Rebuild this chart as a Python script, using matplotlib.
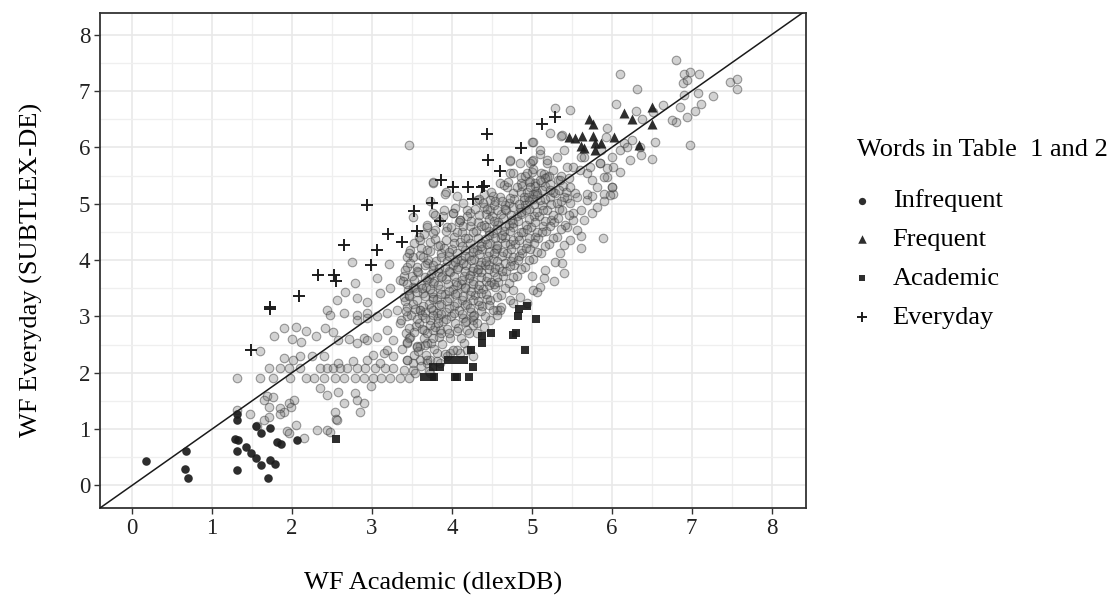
import matplotlib
matplotlib.use("Agg")
import matplotlib.pyplot as plt
from matplotlib.ticker import MultipleLocator

plt.rcParams['font.family'] = ['Liberation Serif', 'DejaVu Serif']

# all words (grey cloud)
background = [
    # sparse lower-left part
    (1.31, 1.90), (1.60, 1.90), (1.60, 2.39), (1.71, 2.08), (1.76, 1.90), (1.85, 2.08), (1.90, 2.26),
    (1.90, 2.79), (1.77, 2.65), (1.97, 2.08), (1.98, 1.90), (2.02, 2.23), (2.05, 2.81), (2.10, 2.29),
    (2.10, 2.08), (2.18, 2.75), (2.00, 2.60), (2.12, 2.54), (2.18, 1.90), (2.25, 2.29), (2.28, 1.90),
    (2.30, 2.65), (2.35, 2.08), (2.40, 2.29), (2.40, 1.90), (2.42, 2.79), (2.44, 2.08), (2.44, 3.12),
    (2.48, 3.03), (2.52, 2.73), (2.52, 2.08), (2.54, 1.90), (2.56, 3.29), (2.58, 2.58), (2.58, 2.17),
    (2.60, 2.08), (2.65, 3.06), (2.65, 1.90), (2.67, 3.44), (2.69, 2.08), (2.71, 2.60), (2.75, 3.97),
    (2.77, 2.20), (2.79, 3.59), (2.79, 1.90), (2.81, 2.52), (2.81, 3.03), (2.81, 2.08), (2.90, 2.61),
    (2.90, 1.90), (2.92, 2.08), (2.94, 2.23), (2.94, 3.06), (3.01, 1.90), (3.02, 2.32), (3.04, 2.08),
    (3.06, 3.68), (3.12, 1.90), (3.15, 2.35), (3.17, 2.08), (3.22, 3.93), (3.23, 1.90), (3.27, 2.08),
    (3.35, 1.90), (3.46, 1.90),
    (2.35, 1.73), (2.44, 1.61), (2.58, 1.65), (2.65, 1.46), (2.79, 1.64), (2.81, 1.52), (2.90, 1.46),
    (2.85, 1.31), (2.54, 1.31), (2.55, 1.18), (2.99, 1.77), (2.56, 1.16), (1.69, 1.58), (1.76, 1.57),
    (1.65, 1.52), (1.71, 1.40), (1.85, 1.37), (1.97, 1.46), (2.03, 1.52), (1.99, 1.40), (1.90, 1.30),
    (1.48, 1.27), (1.65, 1.17), (1.71, 1.21), (1.85, 1.27), (2.05, 1.08), (2.15, 0.84), (2.31, 0.99),
    (2.44, 0.99), (2.48, 0.94), (1.94, 0.96), (1.97, 0.93), (1.56, 1.05), (1.31, 1.34),
    # left flank of the main cloud
    (3.48, 4.18), (3.60, 4.09), (3.69, 3.94), (3.44, 3.88), (3.35, 3.65), (3.23, 3.50), (3.10, 3.41),
    (2.94, 3.26), (2.81, 3.32), (2.81, 2.94), (2.94, 2.97), (3.06, 3.00), (3.19, 3.06), (3.31, 3.12),
    (3.44, 3.17), (3.60, 3.12), (3.35, 2.88), (3.19, 2.76), (3.06, 2.64), (2.94, 2.58), (3.27, 2.58),
    (3.44, 2.52), (3.60, 2.47), (3.19, 2.41), (3.10, 2.17), (3.27, 2.29), (3.44, 2.23), (3.69, 2.17),
    (3.52, 2.05), (3.73, 1.99), (3.69, 3.65), (3.77, 3.35), (3.81, 3.06), (3.77, 2.76),
    (3.47, 6.04), (3.77, 5.37), (3.93, 5.20), (3.65, 4.47), (3.77, 4.83), (3.79, 4.53), (3.85, 4.27),
    (3.44, 4.06),
    # edges of the main cloud
    (4.73, 5.75), (4.85, 5.72), (5.00, 5.75), (4.73, 5.54), (5.00, 5.57), (5.12, 5.54), (5.04, 5.36),
    (5.19, 5.72), (5.31, 5.83), (5.40, 5.95), (5.52, 5.66), (5.62, 5.83), (5.69, 5.54), (5.85, 5.72),
    (5.94, 5.48), (6.00, 5.30), (6.02, 5.18), (5.90, 5.18), (5.75, 5.13), (5.81, 4.95), (5.69, 5.07),
    (5.62, 4.89), (5.52, 4.83), (5.75, 4.83), (5.65, 4.71), (5.56, 4.53), (5.62, 4.42), (5.62, 4.21),
    (5.89, 4.39), (5.44, 4.59), (5.48, 4.36), (5.40, 4.27), (5.35, 4.12), (5.29, 3.97), (5.40, 3.77),
    (5.28, 3.62), (5.17, 3.82), (5.15, 3.68), (5.10, 3.53), (5.00, 3.71), (5.02, 3.47), (4.94, 3.23),
    (4.85, 3.35), (4.77, 3.47), (4.73, 3.29), (4.62, 3.17), (4.56, 3.12), (4.48, 2.94), (4.40, 2.82),
    (4.31, 2.70), (4.27, 2.94), (4.19, 2.76), (4.15, 2.52), (4.10, 2.35), (3.98, 2.35), (3.85, 2.17),
    (3.73, 2.23), (3.60, 2.23), (3.52, 2.17), (3.44, 2.23), (3.56, 2.47), (3.69, 2.52), (3.48, 2.64),
    (3.65, 2.76), (3.85, 2.76), (3.44, 3.00), (3.60, 3.12), (3.40, 3.35), (3.52, 3.53), (3.40, 3.71),
    (3.52, 4.06), (3.60, 4.36), (3.77, 4.48), (3.69, 4.59), (3.94, 4.59), (4.02, 4.83), (4.19, 4.89),
    (4.10, 4.71), (4.31, 5.07), (4.40, 5.18), (4.52, 5.13), (4.60, 5.36), (4.69, 5.30), (4.48, 4.89),
    (3.90, 4.89), (3.79, 4.80), (3.73, 5.04), (3.92, 5.18), (4.06, 5.13), (3.77, 5.39), (3.52, 4.77),
    (3.69, 4.18), (3.48, 3.94),
    (4.73, 5.78), (5.00, 6.10), (5.23, 6.25), (5.38, 6.22), (4.77, 5.54), (4.87, 5.36), (4.98, 5.72),
    (5.10, 5.89), (4.65, 5.33), (4.48, 5.07), (4.40, 4.95), (4.23, 4.83), (4.10, 4.71), (4.02, 4.83),
    (4.90, 5.07), (5.19, 5.48), (5.02, 5.18),
    (5.38, 3.94), (5.06, 3.44), (4.77, 3.23), (4.60, 3.12), (4.56, 3.03), (4.27, 2.85), (4.27, 2.29),
    (4.19, 2.41), (4.06, 2.41), (3.81, 2.35), (3.69, 2.23), (3.54, 1.99), (3.40, 2.05), (3.94, 2.29),
    # dense core
    (3.38, 2.42), (3.43, 2.71), (3.36, 2.93), (3.41, 3.27), (3.45, 3.47), (3.39, 3.62), (3.42, 3.82),
    (3.53, 2.31), (3.47, 2.62), (3.55, 2.83), (3.49, 3.02), (3.52, 3.22), (3.46, 3.38), (3.54, 3.51),
    (3.50, 3.71), (3.56, 3.88), (3.47, 4.12), (3.53, 4.31),
    (3.62, 2.12), (3.58, 2.39), (3.65, 2.61), (3.59, 2.88), (3.63, 3.03), (3.57, 3.29), (3.64, 3.42),
    (3.61, 3.58), (3.58, 3.79), (3.66, 3.91), (3.62, 4.22), (3.59, 4.41),
    (3.72, 2.04), (3.68, 2.31), (3.74, 2.52), (3.69, 2.71), (3.73, 2.93), (3.67, 3.08), (3.71, 3.22),
    (3.75, 3.41), (3.68, 3.52), (3.72, 3.69), (3.76, 3.82), (3.70, 4.01), (3.73, 4.32), (3.69, 4.62),
    (3.82, 2.21), (3.78, 2.42), (3.84, 2.63), (3.79, 2.81), (3.83, 2.98), (3.77, 3.12), (3.81, 3.31),
    (3.85, 3.48), (3.78, 3.62), (3.83, 3.78), (3.80, 3.99), (3.86, 4.12), (3.79, 4.38), (3.84, 4.69),
    (3.92, 2.33), (3.88, 2.51), (3.94, 2.78), (3.89, 2.92), (3.93, 3.08), (3.87, 3.22), (3.91, 3.39),
    (3.95, 3.58), (3.88, 3.71), (3.92, 3.88), (3.96, 4.08), (3.90, 4.21), (3.93, 4.52), (3.89, 4.78),
    (4.02, 2.41), (3.98, 2.62), (4.04, 2.88), (3.99, 3.01), (4.03, 3.18), (3.97, 3.32), (4.01, 3.48),
    (4.05, 3.61), (3.98, 3.79), (4.02, 3.91), (4.06, 4.02), (4.00, 4.19), (4.03, 4.41), (3.99, 4.58),
    (4.04, 4.92),
    (4.12, 2.62), (4.08, 2.79), (4.14, 2.98), (4.09, 3.12), (4.13, 3.29), (4.07, 3.42), (4.11, 3.58),
    (4.15, 3.71), (4.08, 3.88), (4.12, 4.01), (4.16, 4.18), (4.10, 4.32), (4.13, 4.49), (4.09, 4.68),
    (4.14, 5.02),
    (4.22, 2.71), (4.18, 2.91), (4.24, 3.08), (4.19, 3.22), (4.23, 3.38), (4.17, 3.52), (4.21, 3.68),
    (4.25, 3.81), (4.18, 3.92), (4.22, 4.08), (4.26, 4.21), (4.20, 4.39), (4.23, 4.61), (4.19, 4.79),
    (4.32, 2.88), (4.28, 3.02), (4.34, 3.21), (4.29, 3.38), (4.33, 3.49), (4.27, 3.62), (4.31, 3.79),
    (4.35, 3.91), (4.28, 4.02), (4.32, 4.18), (4.36, 4.31), (4.30, 4.52), (4.33, 4.68), (4.29, 4.91),
    (4.34, 5.08),
    (4.42, 3.01), (4.38, 3.19), (4.44, 3.31), (4.39, 3.48), (4.43, 3.62), (4.37, 3.78), (4.41, 3.91),
    (4.45, 4.08), (4.38, 4.19), (4.42, 4.38), (4.46, 4.52), (4.40, 4.62), (4.43, 4.81), (4.39, 5.01),
    (4.52, 3.12), (4.48, 3.29), (4.54, 3.52), (4.49, 3.61), (4.53, 3.79), (4.47, 3.92), (4.51, 4.02),
    (4.55, 4.19), (4.48, 4.31), (4.52, 4.48), (4.56, 4.62), (4.50, 4.79), (4.53, 4.98), (4.49, 5.21),
    (4.62, 3.38), (4.58, 3.61), (4.64, 3.72), (4.59, 3.88), (4.63, 4.08), (4.57, 4.22), (4.61, 4.39),
    (4.65, 4.52), (4.58, 4.68), (4.62, 4.81), (4.66, 4.98), (4.60, 5.12),
    (4.72, 3.59), (4.68, 3.81), (4.74, 3.98), (4.69, 4.12), (4.73, 4.29), (4.67, 4.41), (4.71, 4.62),
    (4.75, 4.71), (4.68, 4.88), (4.72, 5.02), (4.76, 5.19), (4.70, 5.38),
    (4.82, 3.72), (4.78, 3.91), (4.84, 4.08), (4.79, 4.28), (4.83, 4.42), (4.77, 4.58), (4.81, 4.79),
    (4.85, 4.92), (4.78, 5.08), (4.82, 5.29), (4.86, 5.48),
    (4.92, 3.88), (4.88, 4.12), (4.94, 4.31), (4.89, 4.49), (4.93, 4.62), (4.87, 4.81), (4.91, 4.98),
    (4.95, 5.12), (4.88, 5.31), (4.92, 5.49),
    (5.02, 4.02), (4.98, 4.19), (5.04, 4.41), (4.99, 4.58), (5.03, 4.79), (4.97, 4.91), (5.01, 5.08),
    (5.05, 5.22), (4.98, 5.41), (5.02, 5.61),
    (5.12, 4.12), (5.08, 4.39), (5.14, 4.61), (5.09, 4.78), (5.13, 4.98), (5.07, 5.19), (5.11, 5.38),
    (5.15, 5.52),
    (5.22, 4.29), (5.18, 4.52), (5.24, 4.71), (5.19, 4.88), (5.23, 5.12), (5.17, 5.31), (5.21, 5.49),
    (5.32, 4.41), (5.28, 4.68), (5.34, 4.91), (5.29, 5.19), (5.33, 5.42),
    (5.42, 4.62), (5.38, 4.88), (5.44, 5.11), (5.39, 5.31), (5.52, 4.71), (5.48, 5.02), (5.54, 5.19),
    # darkest band along the diagonal
    (3.44, 2.55), (3.47, 2.80), (3.43, 3.10), (3.46, 3.36), (3.44, 3.58),
    (3.56, 2.45), (3.53, 2.72), (3.57, 2.95), (3.54, 3.14), (3.56, 3.44), (3.53, 3.64), (3.57, 3.80),
    (3.66, 2.50), (3.63, 2.78), (3.67, 2.97), (3.64, 3.18), (3.66, 3.36), (3.63, 3.51), (3.67, 3.70),
    (3.64, 4.06),
    (3.76, 2.62), (3.73, 2.84), (3.77, 3.02), (3.74, 3.15), (3.76, 3.31), (3.73, 3.48), (3.77, 3.60),
    (3.74, 3.76), (3.76, 3.92), (3.73, 4.16),
    (3.86, 2.70), (3.83, 2.89), (3.87, 3.05), (3.84, 3.20), (3.86, 3.40), (3.83, 3.55), (3.87, 3.70),
    (3.84, 3.86), (3.86, 4.05), (3.83, 4.25),
    (3.96, 2.70), (3.93, 2.96), (3.97, 3.15), (3.94, 3.28), (3.96, 3.45), (3.93, 3.66), (3.97, 3.80),
    (3.94, 3.98), (3.96, 4.14), (3.93, 4.35),
    (4.06, 2.75), (4.03, 3.06), (4.07, 3.24), (4.04, 3.40), (4.06, 3.55), (4.03, 3.72), (4.07, 3.85),
    (4.04, 3.97), (4.06, 4.12), (4.03, 4.30), (4.07, 4.50),
    (4.16, 2.90), (4.13, 3.05), (4.17, 3.20), (4.14, 3.36), (4.16, 3.50), (4.13, 3.64), (4.17, 3.80),
    (4.14, 3.95), (4.16, 4.08), (4.13, 4.25), (4.17, 4.40), (4.14, 4.60),
    (4.26, 3.00), (4.23, 3.15), (4.27, 3.30), (4.24, 3.45), (4.26, 3.58), (4.23, 3.74), (4.27, 3.86),
    (4.24, 4.00), (4.26, 4.15), (4.23, 4.30), (4.27, 4.50), (4.24, 4.70),
    (4.36, 3.10), (4.33, 3.28), (4.37, 3.42), (4.34, 3.56), (4.36, 3.70), (4.33, 3.84), (4.37, 3.97),
    (4.34, 4.10), (4.36, 4.25), (4.33, 4.40), (4.37, 4.60), (4.34, 4.80),
    (4.46, 3.20), (4.43, 3.40), (4.47, 3.55), (4.44, 3.70), (4.46, 3.84), (4.43, 3.99), (4.47, 4.14),
    (4.44, 4.28), (4.46, 4.44), (4.43, 4.58), (4.47, 4.72), (4.44, 4.90),
    (4.56, 3.35), (4.53, 3.58), (4.57, 3.70), (4.54, 3.86), (4.56, 3.98), (4.53, 4.12), (4.57, 4.26),
    (4.54, 4.40), (4.56, 4.55), (4.53, 4.70), (4.57, 4.88), (4.54, 5.05),
    (4.66, 3.50), (4.63, 3.80), (4.67, 3.95), (4.64, 4.15), (4.66, 4.30), (4.63, 4.45), (4.67, 4.60),
    (4.64, 4.75), (4.66, 4.90), (4.63, 5.05),
    (4.76, 3.70), (4.73, 3.90), (4.77, 4.05), (4.74, 4.20), (4.76, 4.36), (4.73, 4.52), (4.77, 4.66),
    (4.74, 4.80), (4.76, 4.95), (4.73, 5.10),
    (4.86, 3.85), (4.83, 4.00), (4.87, 4.18), (4.84, 4.35), (4.86, 4.50), (4.83, 4.70), (4.87, 4.85),
    (4.84, 5.00), (4.86, 5.20),
    (4.96, 4.00), (4.93, 4.22), (4.97, 4.40), (4.94, 4.55), (4.96, 4.72), (4.93, 4.88), (4.97, 5.04),
    (4.94, 5.20), (4.96, 5.38),
    (5.06, 4.15), (5.03, 4.30), (5.07, 4.50), (5.04, 4.68), (5.06, 4.85), (5.03, 5.00), (5.07, 5.15),
    (5.04, 5.32),
    (5.16, 4.25), (5.13, 4.50), (5.17, 4.70), (5.14, 4.88), (5.16, 5.08), (5.13, 5.25), (5.17, 5.45),
    (5.26, 4.40), (5.23, 4.60), (5.27, 4.80), (5.24, 5.00), (5.26, 5.20), (5.23, 5.35),
    (5.36, 4.55), (5.33, 4.75), (5.37, 5.05), (5.34, 5.25), (5.36, 5.50),
    (5.46, 4.80), (5.43, 5.20), (5.47, 5.45),
    # upper right tail
    (6.81, 7.55), (6.10, 7.31), (6.32, 7.03), (6.91, 7.31), (6.98, 7.34), (7.09, 7.31), (6.89, 7.15),
    (6.94, 7.20), (7.48, 7.16), (7.57, 7.21), (7.57, 7.03), (7.27, 6.91), (7.12, 6.77), (7.04, 6.64),
    (7.08, 6.96), (6.90, 6.93), (6.85, 6.72), (6.94, 6.54), (6.81, 6.45), (6.75, 6.48), (6.98, 6.04),
    (6.64, 6.75), (6.52, 6.63), (6.38, 6.50), (6.31, 6.65), (6.05, 6.77), (5.29, 6.69), (5.48, 6.67),
    (5.37, 6.20), (5.02, 6.10), (5.94, 6.34), (5.93, 6.19), (6.15, 6.07), (6.25, 6.13), (6.54, 6.10),
    (6.50, 5.80), (6.37, 5.86), (6.10, 5.95), (6.19, 6.01), (5.87, 5.95), (6.00, 5.83), (6.02, 5.66),
    (6.10, 5.57), (5.94, 5.63), (5.90, 5.48), (6.00, 5.30), (5.98, 5.15), (5.90, 5.04), (5.75, 5.42),
    (5.81, 5.30), (5.69, 5.18), (5.56, 5.12), (5.48, 5.30), (5.40, 5.12), (5.35, 5.42), (5.27, 5.60),
    (5.44, 5.66), (5.60, 5.60), (5.73, 5.66), (5.85, 5.72), (6.23, 5.77), (6.35, 6.01), (5.65, 5.83),
    (5.19, 5.77), (5.10, 5.95), (5.02, 5.77), (4.94, 5.54), (5.10, 5.42), (4.98, 5.30), (5.23, 5.24),
    (4.90, 5.12), (5.10, 5.07), (5.31, 5.01),
]

# words from Table 1 and 2
infrequent_x = [0.18, 0.68, 0.66, 0.70, 1.31, 1.31, 1.29, 1.32, 1.31, 1.31, 1.55, 1.61, 1.72, 1.43,
                1.49, 1.55, 1.61, 1.72, 1.79, 1.70, 1.82, 1.87, 2.06]
infrequent_y = [0.44, 0.61, 0.30, 0.14, 1.27, 1.16, 0.83, 0.80, 0.62, 0.27, 1.05, 0.93, 1.02, 0.68,
                0.58, 0.48, 0.36, 0.45, 0.38, 0.14, 0.78, 0.74, 0.80]

frequent_x = [5.47, 5.54, 5.63, 5.72, 5.77, 5.61, 5.65, 5.76, 5.79, 5.79, 5.86, 6.03, 6.15, 6.25,
              6.34, 6.50, 6.50]
frequent_y = [6.19, 6.17, 6.20, 6.50, 6.42, 6.02, 5.99, 6.20, 6.07, 5.96, 6.07, 6.19, 6.61, 6.50,
              6.04, 6.72, 6.42]

academic_x = [2.55, 3.65, 3.75, 3.78, 3.77, 3.85, 3.95, 4.05, 4.15, 4.04, 4.07, 4.22, 4.26, 4.24,
              4.38, 4.38, 4.49, 4.77, 4.80, 4.91, 4.83, 4.84, 4.94, 5.05]
academic_y = [0.83, 1.92, 1.92, 1.92, 2.10, 2.10, 2.22, 2.22, 2.22, 1.92, 1.92, 1.92, 2.10, 2.41,
              2.53, 2.66, 2.70, 2.67, 2.70, 2.41, 3.00, 3.14, 3.18, 2.96]

everyday_x = [3.86, 2.94, 3.75, 3.53, 3.85, 3.20, 3.38, 3.57, 2.65, 3.06, 2.99, 2.33, 2.53, 2.55,
              2.09, 1.72, 1.72, 1.49, 4.01, 4.20, 4.26, 4.38, 4.40, 4.44, 4.45, 4.60, 4.86, 5.13, 5.29]
everyday_y = [5.42, 4.98, 5.01, 4.87, 4.70, 4.46, 4.32, 4.52, 4.27, 4.18, 3.91, 3.73, 3.73, 3.63,
              3.37, 3.17, 3.13, 2.41, 5.29, 5.29, 5.09, 5.29, 5.32, 6.23, 5.77, 5.58, 5.99, 6.42, 6.54]

groups = ["Infrequent", "Frequent", "Academic", "Everyday"]

bg_x = [p[0] for p in background]
bg_y = [p[1] for p in background]

fig = plt.figure(figsize=(11.07, 6.0), dpi=100)
ax = fig.add_axes([100 / 1107, 1 - 508 / 600, 706 / 1107, 495.3 / 600])

ax.scatter(bg_x, bg_y, s=38, facecolors=(0.45, 0.45, 0.45, 0.32),
           edgecolors=(0.22, 0.22, 0.22, 0.48), linewidths=0.8, zorder=2)
ax.axline((0, 0), slope=1, color="#1a1a1a", lw=1.1, zorder=3)

dark = "#1c1c1c"
ax.scatter(infrequent_x, infrequent_y, s=38, marker="o", color=dark, alpha=0.92, lw=0,
           label=groups[0], zorder=4)
ax.scatter(frequent_x, frequent_y, s=52, marker="^", color=dark, alpha=0.92, lw=0,
           label=groups[1], zorder=4)
ax.scatter(academic_x, academic_y, s=32, marker="s", color=dark, alpha=0.92, lw=0,
           label=groups[2], zorder=4)
ax.scatter(everyday_x, everyday_y, s=78, marker="+", color=dark, linewidths=1.4,
           label=groups[3], zorder=4)

ax.set_xlim(-0.4, 8.43)
ax.set_ylim(-0.4, 8.39)
ax.xaxis.set_major_locator(MultipleLocator(1))
ax.yaxis.set_major_locator(MultipleLocator(1))
ax.xaxis.set_minor_locator(MultipleLocator(0.5))
ax.yaxis.set_minor_locator(MultipleLocator(0.5))
ax.grid(which="major", color="#e9e9e9", lw=1.2, zorder=0)
ax.grid(which="minor", color="#efefef", lw=0.9, zorder=0)
ax.set_axisbelow(True)
ax.tick_params(which="minor", length=0)
ax.tick_params(which="major", length=4, width=1.0, color="#333333", pad=3,
               labelsize=16.5, labelcolor="#222222")
for sp in ax.spines.values():
    sp.set_color("#333333")
    sp.set_linewidth(1.3)

ax.set_xlabel("WF Academic (dlexDB)", fontsize=19)
ax.set_ylabel("WF Everyday (SUBTLEX-DE)", fontsize=19)
ax.xaxis.set_label_coords(0.472, -0.13)
ax.yaxis.set_label_coords(-0.081, 0.48)

fig.text(857 / 1107, 1 - 150 / 600, "Words in Table  1 and 2", fontsize=19,
         ha="left", va="center")
fig.legend(loc="upper left", bbox_to_anchor=(857 / 1107, 1 - 189 / 600), frameon=False,
           fontsize=19, markerscale=0.85, handlelength=0.4, handletextpad=0.95,
           borderpad=0, borderaxespad=0, labelspacing=0.58)

fig.savefig("out.png", dpi=100)
